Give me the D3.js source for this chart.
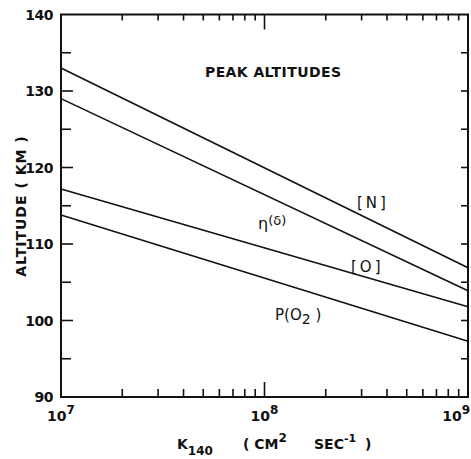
<!DOCTYPE html>
<html>
<head>
<meta charset="utf-8">
<script src="https://cdn.jsdelivr.net/npm/d3@7"></script>
<style>
  body { margin: 0; background: #fff; }
  text { font-family: "DejaVu Sans", sans-serif; fill: #111; }
</style>
</head>
<body>
<div id="chart"></div>
<script>
// Peak altitudes vs eddy diffusion coefficient K140
const kValues = [1e7, 1e9];
const seriesNames = ["[N]", "eta", "[O]", "PO2"];
const altN = [133.0, 106.9];
const altEta = [129.0, 103.9];
const altO = [117.2, 101.8];
const altPO2 = [113.8, 97.3];
const yTicks = [90, 100, 110, 120, 130, 140];
const xTickExp = [7, 8, 9];

const W = 471, H = 459;
const margin = { top: 14.5, left: 61, right: 3, bottom: 62 };
const width = W - margin.left - margin.right,
  height = H - margin.top - margin.bottom;

const svg = d3.select("#chart").append("svg")
  .attr("width", W).attr("height", H);

const g = svg.append("g")
  .attr("transform", "translate(" + margin.left + "," + margin.top + ")");

const xScale = d3.scaleLog().domain([1e7, 1e9]).range([0, width]);
const yScale = d3.scaleLinear().domain([90, 140]).range([height, 0]);

// minor log ticks
const minor = [];
for (let e = 7; e < 9; e++) {
  for (let m = 2; m <= 9; m++) minor.push(m * Math.pow(10, e));
}
const yMinor = d3.range(95, 140, 10);

// frame
g.append("rect")
  .attr("width", width).attr("height", height)
  .attr("fill", "none").attr("stroke", "#111").attr("stroke-width", 2);

const tick = (x1, y1, x2, y2, w) => g.append("line")
  .attr("x1", x1).attr("y1", y1).attr("x2", x2).attr("y2", y2)
  .attr("stroke", "#111").attr("stroke-width", w || 1.6);

// x ticks (bottom up, top down)
minor.forEach(v => {
  tick(xScale(v), height, xScale(v), height - 8);
  tick(xScale(v), 0, xScale(v), 6);
});
tick(xScale(1e8), height, xScale(1e8), height - 15);
tick(xScale(1e8), 0, xScale(1e8), 15);

// y ticks (left in, right in)
yTicks.slice(1, -1).forEach(v => {
  tick(0, yScale(v), 12, yScale(v));
  tick(width, yScale(v), width - 7, yScale(v));
});
yMinor.forEach(v => {
  tick(0, yScale(v), 10, yScale(v));
  tick(width, yScale(v), width - 7, yScale(v));
});

// y tick labels
g.selectAll(".ylab").data(yTicks).enter().append("text")
  .attr("x", -8).attr("y", d => yScale(d) + 5)
  .attr("text-anchor", "end")
  .style("font-size", "14px").style("font-weight", "bold")
  .style("letter-spacing", "-0.5px")
  .text(d => d);

// x tick labels 10^n
xTickExp.forEach(e => {
  const t = g.append("text")
    .attr("x", e === 9 ? width + 2 : xScale(Math.pow(10, e)))
    .attr("y", height + 24)
    .attr("text-anchor", e === 9 ? "end" : "middle")
    .style("font-size", "14px").style("font-weight", "bold");
  t.append("tspan").text("10");
  t.append("tspan").attr("dy", -7).style("font-size", "12px").text(e);
});

// data lines
const line = d3.line()
  .x((d, i) => xScale(kValues[i]))
  .y(d => yScale(d));

[altN, altEta, altO, altPO2].forEach((s, i) => {
  g.append("path")
    .datum(s)
    .attr("class", "line-" + seriesNames[i])
    .attr("d", line)
    .attr("fill", "none").attr("stroke", "#111").attr("stroke-width", 1.6);
});

// curve labels
const lab = (x, y, size) => g.append("text")
  .attr("x", x - margin.left).attr("y", y - margin.top)
  .style("font-size", (size || 14) + "px");

lab(205, 77).style("font-weight", "bold").style("letter-spacing", "0.4px")
  .text("PEAK ALTITUDES");
lab(357, 208, 15).style("letter-spacing", "3px").text("[N]");
lab(351, 272, 15).style("letter-spacing", "3px").text("[O]");
const eta = lab(258, 229, 16);
eta.append("tspan").text("η");
eta.append("tspan").attr("dy", -4).style("font-size", "13px").text("(δ)");
const po = lab(275, 320, 15);
po.append("tspan").text("P(O");
po.append("tspan").attr("dy", 4).style("font-size", "14px").text("2");
po.append("tspan").attr("dy", -4).text(" )");

// axis titles
svg.append("text")
  .attr("transform", "translate(26," + 206 + ") rotate(-90)")
  .attr("text-anchor", "middle")
  .style("font-size", "14px").style("font-weight", "bold")
  .style("letter-spacing", "1px")
  .text("ALTITUDE  ( KM )");

const xt = svg.append("text")
  .attr("x", 177).attr("y", 449)
  .style("font-size", "14px").style("font-weight", "bold");
xt.append("tspan").text("K");
xt.append("tspan").attr("dy", 6).style("font-size", "12px").text("140");
xt.append("tspan").attr("x", 243).attr("dy", -6).text("( CM");
xt.append("tspan").attr("dy", -7).style("font-size", "12px").text("2");
xt.append("tspan").attr("x", 314).attr("dy", 7).text("SEC");
xt.append("tspan").attr("dy", -7).style("font-size", "11px").text("-1");
xt.append("tspan").attr("x", 365).attr("dy", 7).text(")");
</script>
</body>
</html>
